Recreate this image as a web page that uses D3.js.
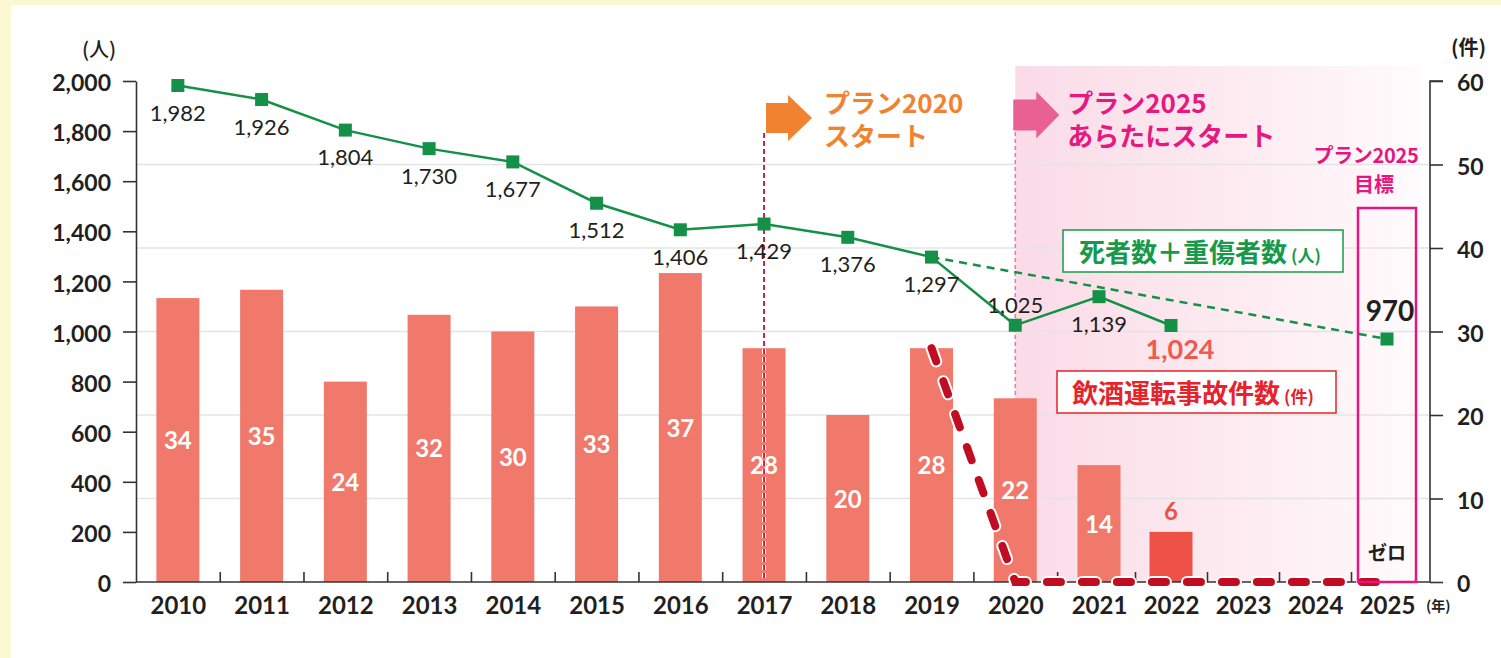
<!DOCTYPE html>
<html lang="ja">
<head>
<meta charset="UTF-8">
<title>飲酒運転事故件数と死者数＋重傷者数</title>
<script src="https://d3js.org/d3.v7.min.js"></script>
<style>
  body { margin: 0; padding: 0; background: #fcf8d4; }
  svg { display: block; }
  .num { font-family: Lato, "Noto Sans CJK JP", sans-serif; }
  .jp { font-family: "Noto Sans CJK JP", sans-serif; }
  .axis text { font-family: Lato, sans-serif; font-weight: 700; fill: #231f20; }
  .axis path, .axis line { stroke: #333; stroke-width: 1.6; }
</style>
</head>
<body>
<svg id="chart" width="1501" height="658"></svg>
<script>
// categories (x axis)
const yearLabels = [2010, 2011, 2012, 2013, 2014, 2015, 2016, 2017, 2018, 2019, 2020, 2021, 2022, 2023, 2024, 2025];
// 飲酒運転事故件数 (件), 2010-2022
const accidentYears = [2010, 2011, 2012, 2013, 2014, 2015, 2016, 2017, 2018, 2019, 2020, 2021, 2022];
const accidents = [34, 35, 24, 32, 30, 33, 37, 28, 20, 28, 22, 14, 6];
// 死者数＋重傷者数 (人), 2010-2022
const casualties = [1982, 1926, 1804, 1730, 1677, 1512, 1406, 1429, 1376, 1297, 1025, 1139, 1024];
// targets
const casualtyTargetYears = [2019, 2025];
const casualtyTargetValues = [1297, 970];
const accidentTargetYears = [2019, 2020, 2021, 2022, 2023, 2024, 2025];
const accidentTargetValues = [28, 0, 0, 0, 0, 0, 0];
// axis ticks
const leftTicks = [0, 200, 400, 600, 800, 1000, 1200, 1400, 1600, 1800, 2000];
const rightTicks = [0, 10, 20, 30, 40, 50, 60];
const tickMids = yearLabels.slice(0, -1).map(y => y + 0.5);

const svg = d3.select("#chart");
const plotLeft = 136, plotRight = 1430, plotTop = 81, plotBottom = 582;

const x = d3.scaleLinear().domain([2009.5, 2021, 2025]).range([plotLeft, 1099, 1387]);
const yL = d3.scaleLinear().domain([0, 2000]).range([plotBottom, plotTop]);
const yR = d3.scaleLinear().domain([0, 60]).range([plotBottom, plotTop]);

// white panel
svg.append("rect").attr("x", 11).attr("y", 5).attr("width", 1500).attr("height", 660).attr("fill", "#fff");

// pink gradient region (plan 2025)
const defs = svg.append("defs");
const grad = defs.append("linearGradient").attr("id", "pinkGrad");
grad.append("stop").attr("offset", "0%").attr("stop-color", "#fadbe7");
grad.append("stop").attr("offset", "55%").attr("stop-color", "#fdebf1");
grad.append("stop").attr("offset", "100%").attr("stop-color", "#fffbfc");
svg.append("rect")
  .attr("x", x(2020)).attr("y", 66)
  .attr("width", 1420 - x(2020)).attr("height", plotBottom - 66)
  .attr("fill", "url(#pinkGrad)");

// grid
svg.append("g").selectAll("line")
  .data(rightTicks.filter(d => d > 0 && d < 60))
  .join("line")
  .attr("x1", plotLeft).attr("x2", plotRight)
  .attr("y1", d => yR(d)).attr("y2", d => yR(d))
  .attr("stroke", "#e4e4e4").attr("stroke-width", 1.5);

// bars
const bars = accidentYears.map((yr, i) => ({ year: yr, value: accidents[i] }));
svg.append("g").selectAll("rect")
  .data(bars)
  .join("rect")
  .attr("x", d => x(d.year) - 21.5)
  .attr("width", 43)
  .attr("y", d => yR(d.value))
  .attr("height", d => plotBottom - yR(d.value))
  .attr("fill", d => d.year === 2022 ? "#ee5247" : "#f1796c");

// vertical dotted lines
svg.append("line")
  .attr("x1", x(2017)).attr("x2", x(2017)).attr("y1", 133).attr("y2", plotBottom)
  .attr("stroke", "#fff").attr("stroke-width", 4).attr("stroke-dasharray", "5 3");
svg.append("line")
  .attr("x1", x(2017)).attr("x2", x(2017)).attr("y1", 133).attr("y2", plotBottom)
  .attr("stroke", "#c8102e").attr("stroke-width", 1.8).attr("stroke-dasharray", "5 3");
svg.append("line")
  .attr("x1", x(2020)).attr("x2", x(2020)).attr("y1", 132).attr("y2", yR(22))
  .attr("stroke", "#f07aae").attr("stroke-width", 1.6).attr("stroke-dasharray", "4 3");

// axes
svg.append("g").attr("class", "axis").attr("transform", `translate(${plotLeft},0)`)
  .call(d3.axisLeft(yL).tickValues(leftTicks).tickFormat(d3.format(",")).tickSize(13).tickPadding(12).tickSizeOuter(0))
  .call(g => g.selectAll(".tick text").attr("dy", "0.42em").style("font-size", "23px"));
svg.append("g").attr("class", "axis").attr("transform", `translate(${plotRight},0)`)
  .call(d3.axisRight(yR).tickValues(rightTicks).tickSize(13).tickPadding(14).tickSizeOuter(0))
  .call(g => g.selectAll(".tick text").attr("dy", "0.42em").style("font-size", "23px"))
  .call(g => g.select(".domain").attr("d", `M13,${plotTop}H0V${plotBottom}`));
svg.append("g").attr("class", "axis").attr("transform", `translate(0,${plotBottom})`)
  .call(d3.axisBottom(x).tickValues(yearLabels).tickFormat(d => d).tickSize(0).tickPadding(13))
  .call(g => g.select(".domain").attr("d", `M${plotLeft},0H${plotRight}`))
  .call(g => g.selectAll(".tick text").attr("dy", "0.8em").style("font-size", "24px"));
svg.append("g").attr("class", "axis").attr("transform", `translate(0,${plotBottom})`)
  .call(d3.axisBottom(x).tickValues(tickMids).tickFormat("").tickSize(-10).tickSizeOuter(0))
  .call(g => g.select(".domain").remove());

// unit labels
svg.append("text").attr("class", "jp").attr("x", 82).attr("y", 57)
  .attr("font-size", 20).attr("font-weight", 500).attr("fill", "#231f20").text("(人)");
svg.append("text").attr("class", "jp").attr("x", 1451).attr("y", 55)
  .attr("font-size", 20).attr("font-weight", 700).attr("fill", "#231f20").text("(件)");
svg.append("text").attr("class", "jp").attr("x", 1426).attr("y", 611)
  .attr("font-size", 14).attr("font-weight", 700).attr("fill", "#231f20").text("(年)");

// bar value labels
svg.append("g").selectAll("text")
  .data(bars)
  .join("text")
  .attr("class", "num")
  .attr("x", d => x(d.year))
  .attr("y", d => d.year === 2022 ? yR(d.value) - 12 : (yR(d.value) + plotBottom) / 2 + 9)
  .attr("text-anchor", "middle")
  .attr("font-size", 24)
  .attr("font-weight", 700)
  .attr("fill", d => d.year === 2022 ? "#ee5247" : "#fff")
  .text(d => d.value);

// target dashed line for accidents (zero)
const accTarget = accidentTargetYears.map((yr, i) => [x(yr), yR(accidentTargetValues[i])]);
const lineGen = d3.line();
svg.append("path").attr("d", lineGen(accTarget)).attr("fill", "none")
  .attr("stroke", "#fff").attr("stroke-width", 12).attr("stroke-linecap", "round")
  .attr("stroke-dasharray", "14 21");
svg.append("path").attr("d", lineGen(accTarget)).attr("fill", "none")
  .attr("stroke", "#c00d22").attr("stroke-width", 8).attr("stroke-linecap", "round")
  .attr("stroke-dasharray", "14 21");

// casualty line
const pts = accidentYears.map((yr, i) => ({ year: yr, value: casualties[i] }));
const tgt = casualtyTargetYears.map((yr, i) => ({ year: yr, value: casualtyTargetValues[i] }));
const line = d3.line().x(d => x(d.year)).y(d => yL(d.value));
svg.append("path").datum(tgt).attr("d", line).attr("fill", "none")
  .attr("stroke", "#149047").attr("stroke-width", 2.5).attr("stroke-dasharray", "8 6");
svg.append("path").datum(pts).attr("d", line).attr("fill", "none")
  .attr("stroke", "#149047").attr("stroke-width", 2.5);
svg.append("g").selectAll("rect")
  .data(pts.concat([tgt[1]]))
  .join("rect")
  .attr("x", d => x(d.year) - 6.5).attr("y", d => yL(d.value) - 6.5)
  .attr("width", 13).attr("height", 13)
  .attr("fill", "#149047");

// casualty labels
svg.append("g").selectAll("text")
  .data(pts)
  .join("text")
  .attr("class", "num")
  .attr("x", d => x(d.year) + (d.year === 2022 ? 9 : 0))
  .attr("y", d => d.year === 2020 ? yL(d.value) - 12 : yL(d.value) + (d.year === 2022 ? 34 : 35))
  .attr("text-anchor", "middle")
  .attr("font-size", d => d.year === 2022 ? 27 : 22)
  .attr("font-weight", d => d.year === 2022 ? 700 : 400)
  .attr("fill", d => d.year === 2022 ? "#ee5a4d" : "#231f20")
  .text(d => d3.format(",")(d.value));

// target box 2025
svg.append("rect")
  .attr("x", x(2025) - 29).attr("y", 208).attr("width", 58).attr("height", plotBottom - 208)
  .attr("fill", "none").attr("stroke", "#e6157f").attr("stroke-width", 2.5);
svg.append("text").attr("class", "num").attr("x", x(2025) + 3).attr("y", yL(tgt[1].value) - 18)
  .attr("text-anchor", "middle").attr("font-size", 28).attr("font-weight", 700).attr("fill", "#231f20")
  .text(d3.format(",")(tgt[1].value));
svg.append("text").attr("class", "jp").attr("x", x(2025)).attr("y", 560)
  .attr("text-anchor", "middle").attr("font-size", 19).attr("font-weight", 700).attr("fill", "#231f20")
  .text("ゼロ");
svg.append("text").attr("class", "jp").attr("x", x(2025) - 21).attr("y", 163)
  .attr("text-anchor", "middle").attr("font-size", 20).attr("font-weight", 700).attr("fill", "#e6157f")
  .attr("letter-spacing", -0.3).text("プラン2025");
svg.append("text").attr("class", "jp").attr("x", x(2025) - 13).attr("y", 192)
  .attr("text-anchor", "middle").attr("font-size", 20).attr("font-weight", 700).attr("fill", "#e6157f")
  .text("目標");

// plan arrows
function arrow(x0, yMid, color, rectH, headH, rectW, headW) {
  const p = [
    [x0, yMid - rectH / 2], [x0 + rectW, yMid - rectH / 2], [x0 + rectW, yMid - headH / 2],
    [x0 + rectW + headW, yMid], [x0 + rectW, yMid + headH / 2], [x0 + rectW, yMid + rectH / 2],
    [x0, yMid + rectH / 2]
  ];
  svg.append("path").attr("d", d3.line()(p) + "Z").attr("fill", color);
}
arrow(x(2017) + 2, 118, "#f18230", 30, 46, 22, 24);
arrow(x(2020) - 2, 115, "#e86192", 31, 47, 23, 23);

function planText(xPos, color, lines) {
  lines.forEach((t, i) => {
    svg.append("text").attr("class", "jp").attr("x", xPos).attr("y", 113 + i * 33)
      .attr("font-size", 26).attr("font-weight", 700).attr("fill", color).text(t);
  });
}
planText(x(2017) + 60, "#f18230", ["プラン2020", "スタート"]);
planText(x(2020) + 52, "#e5197f", ["プラン2025", "あらたにスタート"]);

// legend boxes
svg.append("rect").attr("x", 1063).attr("y", 230).attr("width", 280).attr("height", 42)
  .attr("fill", "#fff").attr("stroke", "#169a4a").attr("stroke-width", 1.5);
const lg1 = svg.append("text").attr("class", "jp").attr("x", 1079).attr("y", 262)
  .attr("font-weight", 700).attr("fill", "#169a4a");
lg1.append("tspan").attr("font-size", 26).text("死者数＋重傷者数");
lg1.append("tspan").attr("font-size", 17).attr("dx", 4).text("(人)");

svg.append("rect").attr("x", 1057).attr("y", 371).attr("width", 279).attr("height", 42)
  .attr("fill", "#fff").attr("stroke", "#e8222b").attr("stroke-width", 1.5);
const lg2 = svg.append("text").attr("class", "jp").attr("x", 1072).attr("y", 403)
  .attr("font-weight", 700).attr("fill", "#e8222b");
lg2.append("tspan").attr("font-size", 26).text("飲酒運転事故件数");
lg2.append("tspan").attr("font-size", 17).attr("dx", 4).text("(件)");
</script>
</body>
</html>
